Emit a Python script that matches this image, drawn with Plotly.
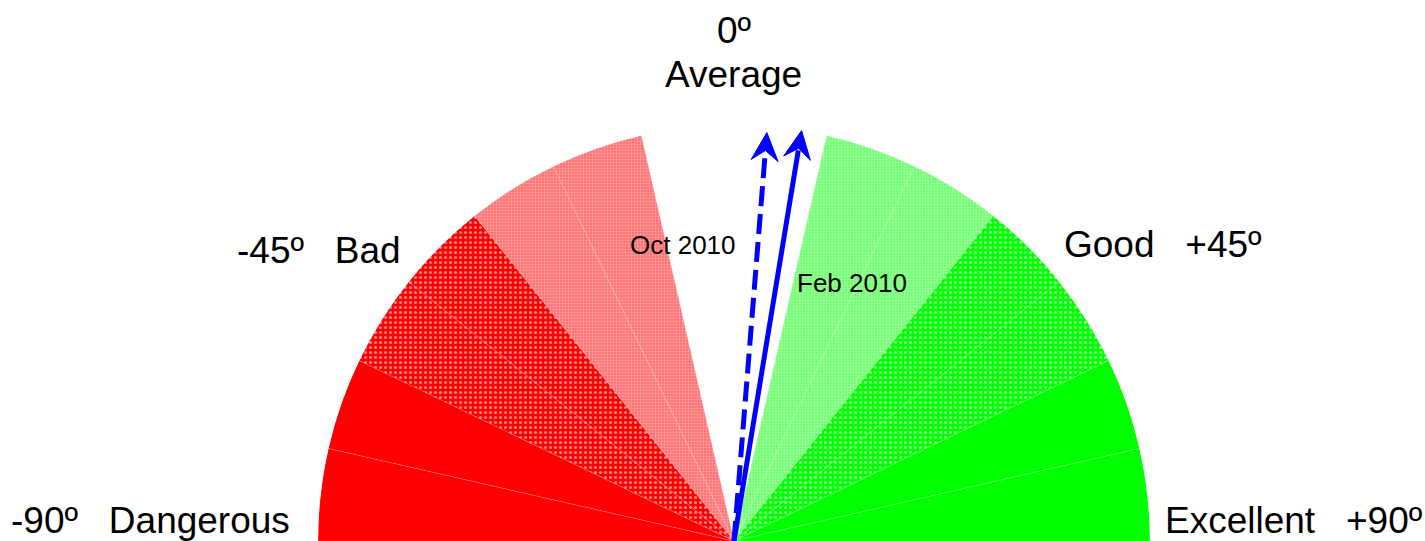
import numpy as np
import plotly.graph_objects as go

# ---------------- data ----------------
# Gauge sectors: angle in degrees (0 = average, negative = worse, positive = better)
sector_centers = [-83.57, -70.71, -57.86, -45.00, -32.14, -19.29,
                  19.29, 32.14, 45.00, 57.86, 70.71, 83.57]
sector_widths = [12.86] * 12
sector_radius = [1.0] * 12
sector_rating = ["Dangerous", "Dangerous", "Bad", "Bad", "Below average", "Below average",
                 "Above average", "Above average", "Good", "Good", "Excellent", "Excellent"]

# Indicator arrows
arrow_dates = ["Feb 2010", "Oct 2010"]
arrow_theta = [9.35, 4.6]
arrow_length = [1.0, 0.985]

# Scale labels
scale_labels = ["-90º   Dangerous", "-45º   Bad", "0º", "Average", "Good   +45º", "Excellent   +90º"]

# ---------------- styles ----------------
W, H = 1425, 541
RED, GREEN, BLUE = "#ff0000", "#00ff00", "#0000ff"
FONT = "Liberation Sans, Arial, Helvetica, sans-serif"

rating_style = {
    "Dangerous": dict(color=RED, pattern=None),
    "Bad": dict(color=RED, pattern=dict(shape=".", fgcolor="white", bgcolor=RED, size=5, solidity=0.3)),
    "Below average": dict(color=RED, pattern=dict(shape=".", fgcolor="#ffd8d8", bgcolor="#ff6a6a", size=3, solidity=0.45)),
    "Above average": dict(color=GREEN, pattern=dict(shape=".", fgcolor="#d8ffd8", bgcolor="#6aff6a", size=3, solidity=0.45)),
    "Good": dict(color=GREEN, pattern=dict(shape=".", fgcolor="white", bgcolor=GREEN, size=5, solidity=0.3)),
    "Excellent": dict(color=GREEN, pattern=None),
}
arrow_dash = {"Feb 2010": "solid", "Oct 2010": "20px,8px"}

fig = go.Figure()

# sectors
order = []
for r in sector_rating:
    if r not in order:
        order.append(r)
for rating in order:
    idx = [i for i, r in enumerate(sector_rating) if r == rating]
    st = rating_style[rating]
    marker = dict(color=st["color"], line=dict(color="rgba(255,255,255,0.3)", width=0.5))
    if st["pattern"] is not None:
        marker["pattern"] = st["pattern"]
    fig.add_trace(go.Barpolar(
        r=[sector_radius[i] for i in idx],
        theta=[sector_centers[i] for i in idx],
        width=[sector_widths[i] for i in idx],
        marker=marker,
        name=rating,
        hoverinfo="skip",
    ))

# arrows (shaft + stealth head), head geometry in radius units
HEAD_LEN, HEAD_HALF, NOTCH = 28 / 416, 13.5 / 416, 18 / 416


def to_polar(x, y):
    return float(np.hypot(x, y)), float(np.degrees(np.arctan2(x, y)))


for date, th, ln in zip(arrow_dates, arrow_theta, arrow_length):
    t = np.radians(th)
    u = np.array([np.sin(t), np.cos(t)])
    p = np.array([np.cos(t), -np.sin(t)])
    tip = ln * u
    left = tip - HEAD_LEN * u - HEAD_HALF * p
    right = tip - HEAD_LEN * u + HEAD_HALF * p
    notch = tip - NOTCH * u
    fig.add_trace(go.Scatterpolar(
        r=[0, ln - NOTCH - 0.005], theta=[th, th], mode="lines",
        line=dict(color=BLUE, width=5, dash=arrow_dash[date]),
        cliponaxis=False, hoverinfo="skip", showlegend=False,
    ))
    pts = [to_polar(*q) for q in (tip, left, notch, right, tip)]
    fig.add_trace(go.Scatterpolar(
        r=[q[0] for q in pts], theta=[q[1] for q in pts], mode="lines",
        fill="toself", fillcolor=BLUE, line=dict(color=BLUE, width=1),
        cliponaxis=False, hoverinfo="skip", showlegend=False,
    ))

# label positions (pixel centres)
label_pos = {
    "-90º   Dangerous": (150, 520),
    "-45º   Bad": (318.5, 250),
    "0º": (734, 30),
    "Average": (733.5, 74.5),
    "Good   +45º": (1162.5, 245),
    "Excellent   +90º": (1293.5, 520),
}
date_pos = {"Oct 2010": (682.5, 244.5), "Feb 2010": (852, 283)}

annotations = []
for lab in scale_labels:
    x, y = label_pos[lab]
    annotations.append(dict(text=lab, x=x / W, y=1 - y / H, xref="paper", yref="paper",
                            xanchor="center", yanchor="middle", showarrow=False,
                            borderpad=0,
                            font=dict(family=FONT, size=37, color="black")))
for d in arrow_dates:
    x, y = date_pos[d]
    annotations.append(dict(text=d, x=x / W, y=1 - y / H, xref="paper", yref="paper",
                            xanchor="center", yanchor="middle", showarrow=False,
                            font=dict(family=FONT, size=26, color="black")))

CX, R = 734, 416
fig.update_layout(
    width=W, height=H,
    margin=dict(l=0, r=0, t=0, b=0),
    paper_bgcolor="white", plot_bgcolor="white",
    showlegend=False,
    polar=dict(
        domain=dict(x=[(CX - R) / W, (CX + R) / W], y=[0, R / H]),
        sector=[0, 180],
        hole=0,
        bargap=0,
        bgcolor="rgba(0,0,0,0)",
        radialaxis=dict(range=[0, 1], visible=False, showgrid=False, showline=False, ticks=""),
        angularaxis=dict(rotation=90, direction="clockwise", visible=False,
                         showgrid=False, showline=False, ticks=""),
    ),
    annotations=annotations,
)

fig.write_html("out.html", config={"displayModeBar": False},
               post_script="document.body.style.margin='0';document.body.style.overflow='hidden';")
